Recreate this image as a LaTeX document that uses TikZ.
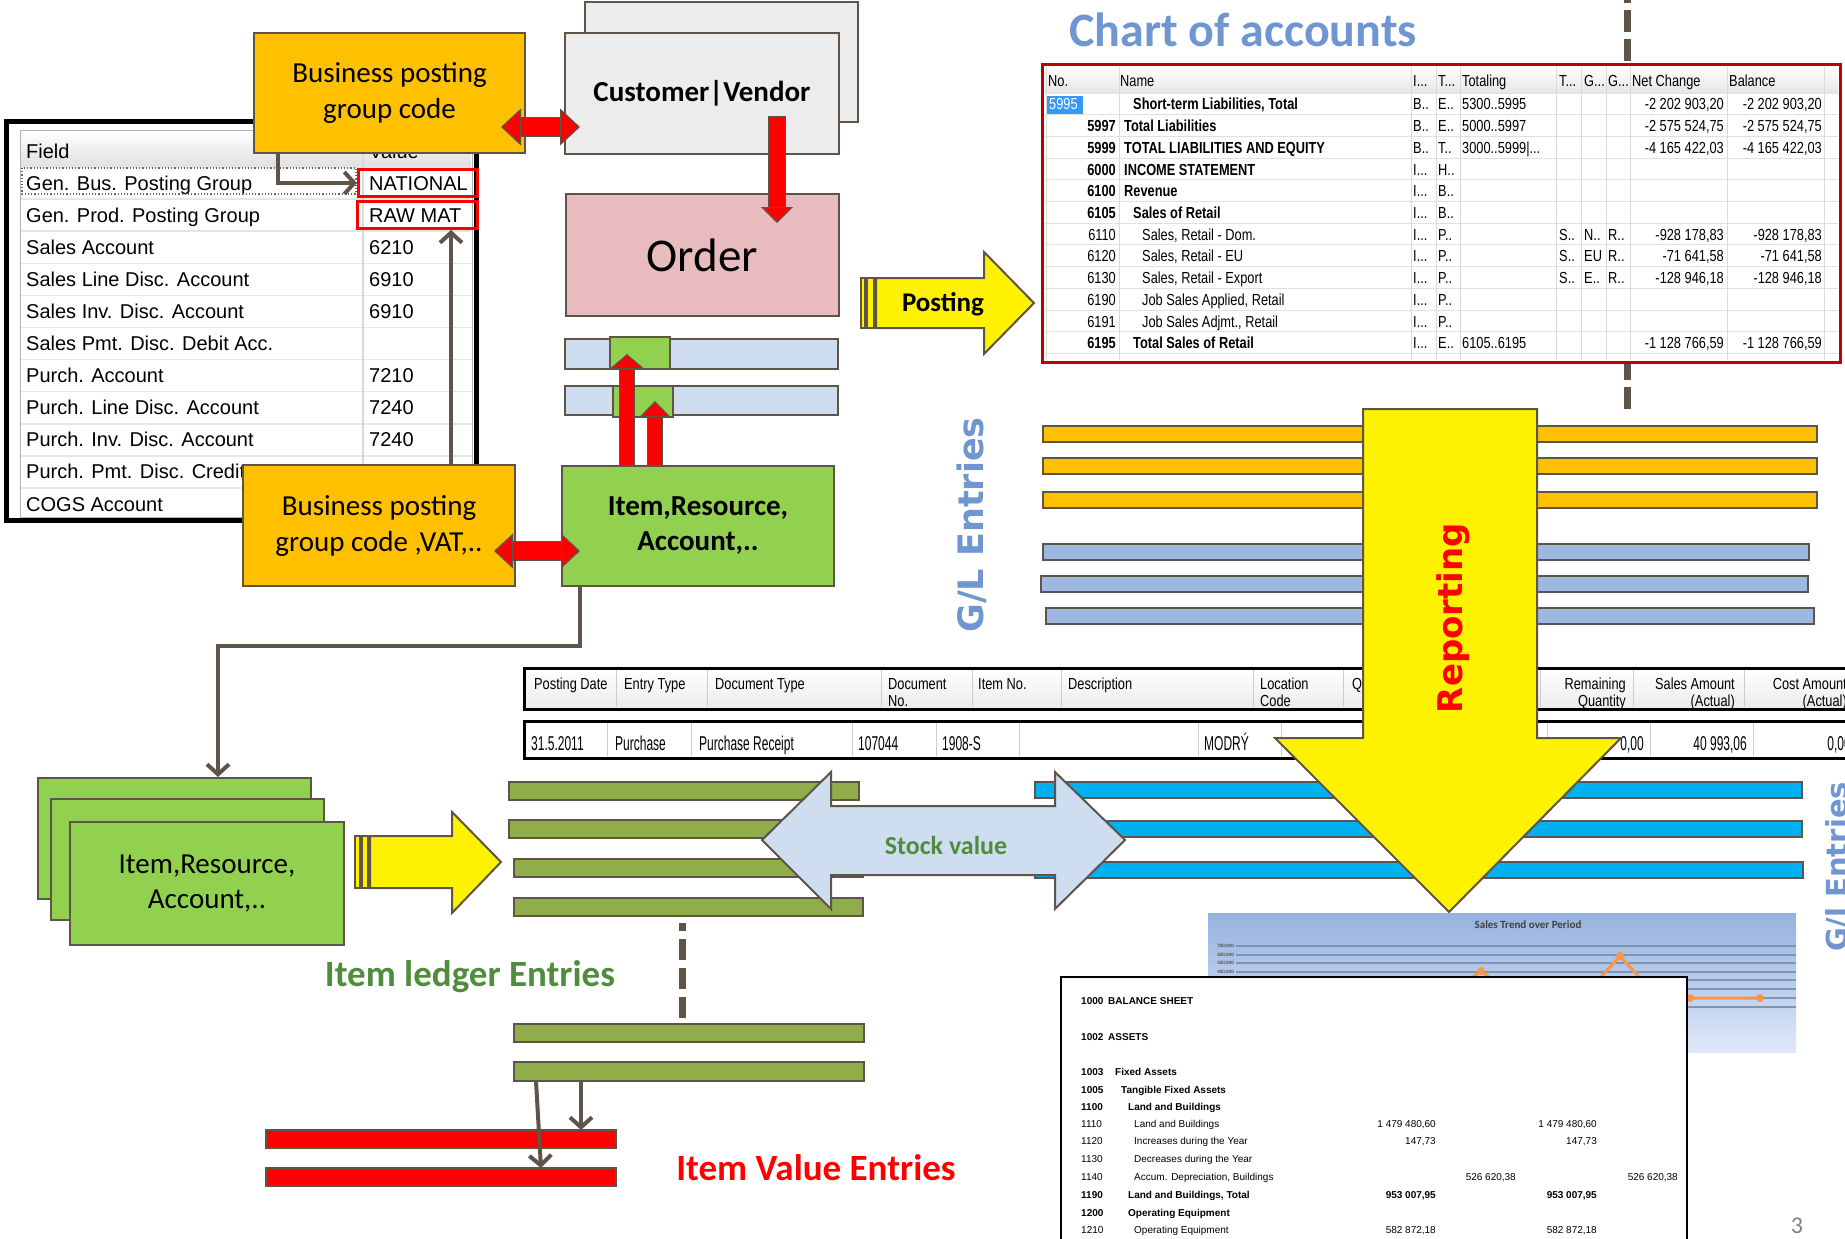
\documentclass[tikz,border=0pt]{standalone}
\usepackage{fontspec}
\setmainfont{Carlito}
\newfontfamily\tahoma{Liberation Sans}
\newfontfamily\coafont[FakeStretch=0.8]{Liberation Sans}
\newfontfamily\rowfnt[FakeStretch=0.6]{Liberation Sans}
\newfontfamily\verdfont{DejaVu Sans}
\usetikzlibrary{arrows.meta}
\newcommand{\fsz}[2]{\fontsize{#1}{#2}\selectfont}

\definecolor{edgec}{RGB}{94,84,72}
\definecolor{ppOrange}{RGB}{255,192,0}
\definecolor{ppGreen}{RGB}{146,208,80}
\definecolor{ppOlive}{RGB}{143,173,73}
\definecolor{ppCyan}{RGB}{0,176,240}
\definecolor{ppSteel}{RGB}{157,185,226}
\definecolor{ppIce}{RGB}{207,221,240}
\definecolor{ppPink}{RGB}{232,188,190}
\definecolor{ppGrey}{RGB}{236,236,236}
\definecolor{ppBlueTxt}{RGB}{111,150,208}
\definecolor{ppGreenTxt}{RGB}{79,141,61}
\definecolor{coaRed}{RGB}{192,0,0}
\definecolor{ppHilite}{RGB}{51,153,255}
\definecolor{trendTop}{RGB}{150,178,224}
\definecolor{trendBot}{RGB}{222,231,246}
\definecolor{trendOrange}{RGB}{247,150,70}

\tikzset{
  ppbox/.style={draw=edgec, line width=2pt, inner sep=0pt, anchor=north west, align=center},
  obox/.style={ppbox, fill=ppOrange, font=\fsz{29}{36}},
  gbox/.style={ppbox, fill=ppGreen, font=\fsz{29}{35}},
  entrybar/.style={draw=edgec, line width=2pt},
  barnode/.style={entrybar, inner sep=0pt, outer sep=0pt, anchor=north west},
  blockarrow/.style={draw=edgec, line width=2pt, line join=miter},
  conn/.style={draw=edgec, line width=4pt, -{Straight Barb[length=10pt,width=22pt]}},
  redone/.style n args={4}{draw=red, line width=#1,
    arrows={-Triangle[length=#2,width=#3,color=edgec,fill=red,line width=1.2pt]},
    preaction={draw=edgec, line width=#4, arrows=-, shorten >=#2-3pt, shorten <=-1.2pt}},
  redtwo/.style n args={4}{draw=red, line width=#1,
    arrows={Triangle[length=#2,width=#3,color=edgec,fill=red,line width=1.2pt]-Triangle[length=#2,width=#3,color=edgec,fill=red,line width=1.2pt]},
    preaction={draw=edgec, line width=#4, arrows=-, shorten >=#2-3pt, shorten <=#2-3pt}},
  fldtxt/.style={anchor=base west, inner sep=0pt, font=\tahoma\fsz{20}{24}},
  coatxt/.style={inner sep=0pt, font=\coafont\fsz{16}{19}},
  ilehead/.style={inner sep=0pt, font=\coafont\fsz{16}{19}},
  ilerow/.style={inner sep=0pt, font=\rowfnt\fsz{20}{24}},
  reptxt/.style={inner sep=0pt, font=\tahoma\fsz{10}{12}}
}

\begin{document}
\begin{tikzpicture}[x=1pt, y=-1pt]
  \useasboundingbox (0,0) rectangle (1845,1239);
  \clip (0,0) rectangle (1845,1239);
  \fill[white] (0,0) rectangle (1845,1239);

  % chart of accounts
  \draw[edgec, line width=7pt, dash pattern=on 22pt off 7pt, dash phase=19pt] (1627,0) -- (1627,409);
  \node[font=\bfseries\fsz{48}{56}, text=ppBlueTxt] (coaTitle) at (1243,30) {Chart of accounts};
  \fill[white] (1042,65) rectangle (1840,362);
  \shade[top color=white, bottom color=black!10] (1045,67) rectangle (1838,93);
  \foreach \k in {0,...,12}
    \draw[black!12, line width=1pt] (1045,{93+\k*21.7}) -- (1838,{93+\k*21.7});
  \foreach \cx in {1046,1119,1411,1436,1460,1556,1581,1606,1630,1727,1824}
    \draw[black!15, line width=1pt] (\cx,67) -- (\cx,360);
  \foreach \hx/\hlab [count=\hi] in {1048/No., 1120/Name, 1413/{I...}, 1438/{T...}, 1462/Totaling,
      1559/{T...}, 1584/{G...}, 1608/{G...}, 1632/Net Change, 1729/Balance}
    \node[coatxt, anchor=base west] (coaHead\hi) at (\hx,87) {\hlab};
  \fill[ppHilite] (1047,96) rectangle (1083,114);
  \node[coatxt, anchor=base west, text=white] (coaSel) at (1049,110) {5995};
  \foreach \cN/\cX/\cM/\cF/\cA/\cB/\cT/\cG/\cH/\cI/\cV [count=\rw from 0] in {
      {}/1133/{Short-term Liabilities, Total}/\bfseries/B../E../5300..5995/{}/{}/{}/{-2 202 903,20},
      5997/1124/{Total Liabilities}/\bfseries/B../E../5000..5997/{}/{}/{}/{-2 575 524,75},
      5999/1124/{TOTAL LIABILITIES AND EQUITY}/\bfseries/B../T../{3000..5999|...}/{}/{}/{}/{-4 165 422,03},
      6000/1124/{INCOME STATEMENT}/\bfseries/{I...}/H../{}/{}/{}/{}/{},
      6100/1124/Revenue/\bfseries/{I...}/B../{}/{}/{}/{}/{},
      6105/1133/{Sales of Retail}/\bfseries/{I...}/B../{}/{}/{}/{}/{},
      6110/1142/{Sales, Retail - Dom.}/\mdseries/{I...}/P../{}/S../N../R../{-928 178,83},
      6120/1142/{Sales, Retail - EU}/\mdseries/{I...}/P../{}/S../EU/R../{-71 641,58},
      6130/1142/{Sales, Retail - Export}/\mdseries/{I...}/P../{}/S../E../R../{-128 946,18},
      6190/1142/{Job Sales Applied, Retail}/\mdseries/{I...}/P../{}/{}/{}/{}/{},
      6191/1142/{Job Sales Adjmt., Retail}/\mdseries/{I...}/P../{}/{}/{}/{}/{},
      6195/1133/{Total Sales of Retail}/\bfseries/{I...}/E../6105..6195/{}/{}/{}/{-1 128 766,59}}{
    \node[coatxt, anchor=base east] (coaN\rw) at (1116,{110+\rw*21.7}) {\cF\cN};
    \node[coatxt, anchor=base west] (coaM\rw) at (\cX,{110+\rw*21.7}) {\cF\cM};
    \node[coatxt, anchor=base west] (coaA\rw) at (1413,{110+\rw*21.7}) {\cA};
    \node[coatxt, anchor=base west] (coaB\rw) at (1438,{110+\rw*21.7}) {\cB};
    \node[coatxt, anchor=base west] (coaT\rw) at (1462,{110+\rw*21.7}) {\cT};
    \node[coatxt, anchor=base west] (coaG\rw) at (1559,{110+\rw*21.7}) {\cG};
    \node[coatxt, anchor=base west] (coaH\rw) at (1584,{110+\rw*21.7}) {\cH};
    \node[coatxt, anchor=base west] (coaI\rw) at (1608,{110+\rw*21.7}) {\cI};
    \node[coatxt, anchor=base east] (coaNet\rw) at (1724,{110+\rw*21.7}) {\cV};
    \node[coatxt, anchor=base east] (coaBal\rw) at (1822,{110+\rw*21.7}) {\cV};
  }
  \draw[coaRed, line width=3pt] (1042,65) rectangle (1840,362);

  % field list
  \draw[line width=5pt] (6,121) rectangle (476,520);
  \draw[black!30, fill=white, line width=1pt] (20,130) rectangle (472,517);
  \shade[top color=white, bottom color=black!12] (21,131) rectangle (471,166);
  \foreach \k in {0,...,10}
    \draw[black!10, line width=1.5pt] (21,{167+\k*32.1}) -- (471,{167+\k*32.1});
  \draw[black!15, line width=1.5pt] (363,131) -- (363,516);
  \node[fldtxt] (fldHead) at (26,158) {Field};
  \node[fldtxt] (valHead) at (369,158) {Value};
  \foreach \fl/\fv [count=\fk from 0] in {Gen. Bus. Posting Group/NATIONAL, Gen. Prod. Posting Group/RAW MAT,
      Sales Account/6210, Sales Line Disc. Account/6910, Sales Inv. Disc. Account/6910,
      Sales Pmt. Disc. Debit Acc./{}, Purch. Account/7210, Purch. Line Disc. Account/7240,
      Purch. Inv. Disc. Account/7240, Purch. Pmt. Disc. Credit Acc./{}, COGS Account/{}}{
    \node[fldtxt] (fld\fk) at (26,{190+\fk*32.1}) {\fl};
    \node[fldtxt] (val\fk) at (369,{190+\fk*32.1}) {\fv};
  }
  \draw[black!60, dotted, line width=1.2pt] (22,168) rectangle (356,194);
  \node[ppbox, draw=red, line width=3pt, minimum width=119pt, minimum height=27pt] (natBox) at (357,168) {};
  \node[ppbox, draw=red, line width=3pt, minimum width=120pt, minimum height=27pt] (rawBox) at (356,200) {};

  % posting sources
  \node[obox, minimum width=271pt, minimum height=120pt] (bpTop) at (253,32) {Business posting\\group code};
  \node[ppbox, fill=ppGrey, minimum width=273pt, minimum height=120pt] (cvBack) at (584,1) {};
  \node[ppbox, fill=ppGrey, minimum width=274pt, minimum height=121pt, font=\bfseries\fsz{29}{34}] (cvFront) at (564,32) {Customer|Vendor};
  \node[ppbox, fill=ppPink, minimum width=273pt, minimum height=122pt, font=\fsz{47}{54}] (order) at (565,193) {Order};
  \draw[entrybar, fill=ppIce] (565,339) rectangle (838,369);
  \draw[entrybar, fill=ppIce] (565,386) rectangle (838,415);
  \draw[entrybar, fill=ppGreen] (610,337) rectangle (670,369);
  \draw[entrybar, fill=ppGreen] (613,386) rectangle (673,417);
  \node[obox, minimum width=272pt, minimum height=121pt] (bpLow) at (242,464) {Business posting\\group code ,VAT,..};
  \node[gbox, font=\bfseries\fsz{29}{35}, minimum width=272pt, minimum height=120pt] (itemBox) at (561,465) {Item,Resource,\\Account,..};

  \coordinate (bpTopTip) at (501,127);
  \coordinate (cvTip) at (580,127);
  \coordinate (bpLowTip) at (494,551);
  \coordinate (itemTip) at (580,551);
  \coordinate (cvDrop) at (777,117);
  \coordinate (orderTip) at (777,223);
  \coordinate (upA) at (627,354);
  \coordinate (upB) at (655,401);
  \draw[redtwo={18pt}{20pt}{37pt}{20.4pt}] (bpTopTip) -- (cvTip);
  \draw[redtwo={18pt}{19pt}{35pt}{20.4pt}] (bpLowTip) -- (itemTip);
  \draw[redone={16pt}{16pt}{32pt}{18.4pt}] (cvDrop) -- (orderTip);
  \draw[redone={14pt}{15pt}{35pt}{16.4pt}] (itemBox.north -| upA) -- (upA);
  \draw[redone={14pt}{16pt}{31pt}{16.4pt}] (itemBox.north -| upB) -- (upB);

  \draw[conn] ([xshift=25pt]bpTop.south west) |- (natBox.west);
  \draw[conn] ([xshift=209pt]bpLow.north west) -- ([xshift=95pt]rawBox.south west);

  % posting arrow
  \draw[blockarrow, line width=1.5pt, fill=yellow] (861,278) rectangle (865,328);
  \draw[blockarrow, line width=1.5pt, fill=yellow] (867,278) rectangle (874,328);
  \draw[blockarrow, fill=yellow] (876,278) -- (984,278) -- (984,252) -- (1034,303)
    -- (984,354) -- (984,328) -- (876,328) -- cycle;
  \node[font=\bfseries\fsz{27}{32}] (postTxt) at (943,304) {Posting};

  % G/L entries
  \foreach \ya in {426,458,492}
    \draw[entrybar, fill=ppOrange] (1043,\ya) rectangle (1817,{\ya+16});
  \foreach \xa/\ya/\xb in {1043/544/1809, 1041/576/1808, 1046/608/1814}
    \draw[entrybar, fill=ppSteel] (\xa,\ya) rectangle (\xb,{\ya+16});
  \node[rotate=90, font=\verdfont\bfseries\fsz{35}{40}, text=ppBlueTxt] (glTxt) at (972,525) {G/L Entries};

  % item ledger table
  \shade[top color=white, bottom color=black!8] (524,668) rectangle (1850,709);
  \draw[line width=3pt] (524,668) rectangle (1850,709);
  \foreach \cx in {616,707,881,972,1061,1253,1343,1540,1633,1744}
    \draw[black!20, line width=1pt] (\cx,670) -- (\cx,707);
  \foreach \hx/\ha/\hb [count=\hi] in {534/Posting Date/{}, 624/Entry Type/{}, 715/Document Type/{},
      888/Document/No., 978/Item No./{}, 1068/Description/{}, 1260/Location/Code, 1352/Quantity/{}}{
    \node[ilehead, anchor=base west] (ileHa\hi) at (\hx,689) {\ha};
    \node[ilehead, anchor=base west] (ileHb\hi) at (\hx,706) {\hb};
  }
  \foreach \hx/\ha/\hb [count=\hi] in {1626/Remaining/Quantity, 1735/Sales Amount/(Actual), 1847/Cost Amount/(Actual)}{
    \node[ilehead, anchor=base east] (ileRa\hi) at (\hx,689) {\ha};
    \node[ilehead, anchor=base east] (ileRb\hi) at (\hx,706) {\hb};
  }
  \draw[line width=3pt, fill=white] (524,721) rectangle (1850,758);
  \foreach \cx in {607,691,852,936,1019,1198,1281,1547,1650,1753}
    \draw[black!20, line width=1pt] (\cx,723) -- (\cx,756);
  \foreach \dx/\dtx [count=\di] in {531/31.5.2011, 615/Purchase, 699/Purchase Receipt, 858/107044, 942/1908-S, 1204/MODRÝ}
    \node[ilerow, anchor=base west] (ileD\di) at (\dx,750) {\dtx};
  \foreach \dx/\dtx [count=\di] in {1644/{0,00}, 1747/{40 993,06}, 1851/{0,00}}
    \node[ilerow, anchor=base east] (ileV\di) at (\dx,750) {\dtx};

  % item ledger and value entries
  \foreach \xa/\ya/\xb in {509/782/859, 509/820/862, 514/859/863, 514/898/863, 514/1024/864}
    \draw[entrybar, fill=ppOlive] (\xa,\ya) rectangle (\xb,{\ya+18});
  \node[barnode, fill=ppOlive, minimum width=350pt, minimum height=19pt] (ileF) at (514,1062) {};
  \node[barnode, fill=red, minimum width=350pt, minimum height=18pt] (ive1) at (266,1130) {};
  \node[barnode, fill=red, minimum width=350pt, minimum height=18pt] (ive2) at (266,1168) {};
  \draw[conn] ([xshift=67pt]ileF.south west) -- ([xshift=315pt]ive1.north west);
  \draw[conn] ([xshift=22pt]ileF.south west) -- ([xshift=275pt]ive2.north west);
  \draw[edgec, line width=7pt, dash pattern=on 21pt off 8pt] (682,1018) -- (682,923);
  \node[font=\bfseries\fsz{37}{44}, text=ppGreenTxt] (ileTxt) at (470,977) {Item ledger Entries};
  \node[font=\bfseries\fsz{37}{44}, text=red] (iveTxt) at (816,1168) {Item Value Entries};

  \foreach \ya/\xb in {782/1802, 821/1802, 862/1803}
    \draw[entrybar, fill=ppCyan] (1035,\ya) rectangle (\xb,{\ya+16});
  \draw[blockarrow, fill=ppIce] (762,840) -- (831,772) -- (831,806) -- (1055,806) -- (1055,772)
    -- (1125,840) -- (1055,909) -- (1055,875) -- (831,875) -- (831,909) -- cycle;
  \node[font=\bfseries\fsz{26}{30}, text=ppGreenTxt] (stockTxt) at (946,845) {Stock value};

  % reporting
  \draw[blockarrow, fill=yellow] (1363,409) -- (1537,409) -- (1537,738) -- (1621,738)
    -- (1449,912) -- (1275,738) -- (1363,738) -- cycle;
  \node[rotate=90, font=\verdfont\bfseries\fsz{34}{40}, text=red] (repTxt) at (1453,618) {Reporting};

  \shade[top color=trendTop, bottom color=trendBot] (1208,913) rectangle (1796,1052);
  \node[font=\bfseries\fsz{11}{13}, text=black!75] (trendTitle) at (1528,925) {Sales Trend over Period};
  \foreach \gy in {946,955,963,972,980,989,998,1007}
    \draw[black!20!ppSteel, line width=1.2pt] (1236,\gy) -- (1796,\gy);
  \foreach \gy/\gl in {946/{700,000}, 955/{600,000}, 963/{500,000}, 972/{400,000}}
    \node[anchor=east, inner sep=0pt, font=\bfseries\fsz{5}{6}, text=black!70] (axis\gy) at (1234,\gy) {\gl};
  \draw[trendOrange, line width=3pt] (1440,1000) -- (1481,971) -- (1520,1000) -- (1580,1000)
    -- (1620,956) -- (1660,1000) -- (1690,998) -- (1760,998);
  \foreach \px/\py in {1481/971, 1620/956, 1690/998, 1760/998}
    \fill[trendOrange] (\px,\py) circle (4pt);

  \draw[line width=2pt, fill=white] (1061,977) rectangle (1687,1242);
  \foreach \by/\bn/\bt/\bx/\bF/\ba/\bb/\bc/\bd [count=\bi] in {
      1001/1000/{BALANCE SHEET}/1108/\bfseries/{}/{}/{}/{},
      1037/1002/ASSETS/1108/\bfseries/{}/{}/{}/{},
      1072/1003/{Fixed Assets}/1115/\bfseries/{}/{}/{}/{},
      1090/1005/{Tangible Fixed Assets}/1121/\bfseries/{}/{}/{}/{},
      1107/1100/{Land and Buildings}/1128/\bfseries/{}/{}/{}/{},
      1124/1110/{Land and Buildings}/1134/\mdseries/{1 479 480,60}/{}/{1 479 480,60}/{},
      1141/1120/{Increases during the Year}/1134/\mdseries/{147,73}/{}/{147,73}/{},
      1159/1130/{Decreases during the Year}/1134/\mdseries/{}/{}/{}/{},
      1177/1140/{Accum. Depreciation, Buildings}/1134/\mdseries/{}/{526 620,38}/{}/{526 620,38},
      1195/1190/{Land and Buildings, Total}/1128/\bfseries/{953 007,95}/{}/{953 007,95}/{},
      1213/1200/{Operating Equipment}/1128/\bfseries/{}/{}/{}/{},
      1230/1210/{Operating Equipment}/1134/\mdseries/{582 872,18}/{}/{582 872,18}/{}}{
    \node[reptxt, anchor=base west] (repN\bi) at (1081,{\by+3.7}) {\bF\bn};
    \node[reptxt, anchor=base west] (repT\bi) at (\bx,{\by+3.7}) {\bF\bt};
    \node[reptxt, anchor=base east] (repA\bi) at (1436,{\by+3.7}) {\bF\ba};
    \node[reptxt, anchor=base east] (repB\bi) at (1516,{\by+3.7}) {\bF\bb};
    \node[reptxt, anchor=base east] (repC\bi) at (1597,{\by+3.7}) {\bF\bc};
    \node[reptxt, anchor=base east] (repD\bi) at (1678,{\by+3.7}) {\bF\bd};
  }

  % item, resource, account stack
  \node[gbox, minimum width=273pt, minimum height=121pt] (stackA) at (37,777) {};
  \node[gbox, minimum width=273pt, minimum height=121pt] (stackB) at (50,798) {};
  \node[gbox, minimum width=274pt, minimum height=123pt] (stackC) at (69,821) {Item,Resource,\\Account,..};
  \coordinate (stackIn) at (218,777);
  \draw[conn] ([xshift=19pt]itemBox.south west) -- ++(0,59) -| (stackIn);
  \draw[blockarrow, line width=1.5pt, fill=yellow] (355,836) rectangle (360,888);
  \draw[blockarrow, line width=1.5pt, fill=yellow] (362,836) rectangle (368,888);
  \draw[blockarrow, fill=yellow] (370,836) -- (452,836) -- (452,812) -- (501,862)
    -- (452,913) -- (452,888) -- (370,888) -- cycle;

  \node[rotate=90, anchor=base, font=\verdfont\bfseries\fsz{29}{34}, text=ppBlueTxt] (glEdge) at (1847,867) {G/l Entries};
  \node[text=black!50, font=\fsz{24}{28}] (pageNo) at (1797,1226) {3};
\end{tikzpicture}
\end{document}
